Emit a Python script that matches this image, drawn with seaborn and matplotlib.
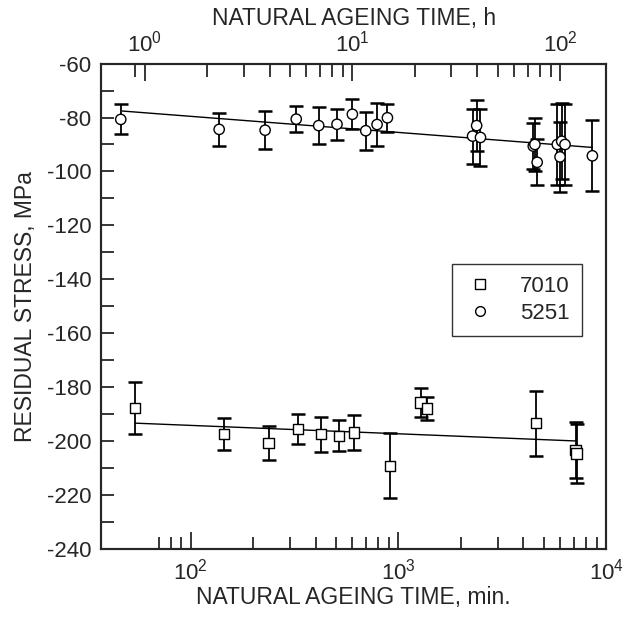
import numpy as np
import pandas as pd
import matplotlib
matplotlib.use("Agg")
import matplotlib.pyplot as plt
import seaborn as sns
from matplotlib.lines import Line2D
from matplotlib.ticker import MultipleLocator, LogLocator, FixedLocator, NullFormatter

# alloy 5251 (circles): time in minutes, stress MPa, error
t_5251 = [46, 137, 228, 322, 413, 506, 600, 696, 789, 885,
          2275, 2380, 2484, 4460, 4541, 4657, 5821, 6000, 6112, 6342, 8590]
s_5251 = [-80.7, -84.4, -84.7, -80.6, -83.0, -82.5, -78.8, -84.9, -82.6, -80.1,
          -86.9, -83.0, -87.4, -90.6, -90.0, -96.6, -90.0, -94.6, -88.8, -90.0, -94.2]
e_5251 = [5.6, 6.2, 7.0, 4.9, 7.0, 5.7, 5.6, 7.0, 7.8, 5.1,
          10.2, 9.5, 10.7, 8.4, 9.7, 8.6, 15.0, 13.0, 14.0, 15.0, 13.2]

# alloy 7010 (squares)
t_7010 = [54, 145, 237, 329, 423, 517, 610, 911, 1278, 1375, 4584, 7134, 7212]
s_7010 = [-187.7, -197.3, -200.7, -195.4, -197.4, -198.0, -196.8, -209.1,
          -185.6, -187.9, -193.3, -203.2, -204.5]
e_7010 = [9.5, 5.9, 6.4, 5.6, 6.5, 5.7, 6.5, 12.0, 5.4, 4.3, 12.1, 10.5, 11.0]

# fitted lines (end points)
fit_t_5251 = [46.8, 8590]
fit_s_5251 = [-77.6, -91.1]
fit_t_7010 = [54, 7134]
fit_s_7010 = [-193.3, -199.9]

# minor ticks as drawn in the original (min / h)
minor_min = [70, 80, 90, 200, 300, 400, 500, 600, 700, 800, 900,
             2000, 3000, 4000, 5000, 6000, 7000, 8000, 9000]
minor_h = [0.9, 2, 3, 4, 5, 6, 7, 8, 9, 20, 30, 40, 50, 60, 70, 80, 90]

x_min, x_max = 37, 10000
fs = 16

sns.set_style("ticks")
plt.rcParams['font.family'] = ['Liberation Sans', 'DejaVu Sans']
plt.rcParams['mathtext.default'] = 'regular'
plt.rcParams['axes.unicode_minus'] = False

df = pd.concat([
    pd.DataFrame({'time': t_7010, 'stress': s_7010, 'err': e_7010, 'alloy': '7010'}),
    pd.DataFrame({'time': t_5251, 'stress': s_5251, 'err': e_5251, 'alloy': '5251'}),
], ignore_index=True)
fits = pd.concat([
    pd.DataFrame({'time': fit_t_7010, 'stress': fit_s_7010, 'alloy': '7010'}),
    pd.DataFrame({'time': fit_t_5251, 'stress': fit_s_5251, 'alloy': '5251'}),
], ignore_index=True)

fig = plt.figure(figsize=(6.32, 6.17), dpi=100)
ax = fig.add_axes([0.160, 0.110, 0.799, 0.787])

# fit lines
sns.lineplot(data=fits, x='time', y='stress', units='alloy', estimator=None,
             color='black', lw=1.0, ax=ax, legend=False)

# error bars
for alloy, g in df.groupby('alloy'):
    ax.errorbar(g['time'], g['stress'], yerr=g['err'], fmt='none', ecolor='black',
                elinewidth=1.3, capsize=5, capthick=1.8, zorder=3)

# markers
sns.scatterplot(data=df, x='time', y='stress', style='alloy',
                markers={'7010': 's', '5251': 'o'}, s=55, color='white',
                edgecolor='black', linewidth=1.0, ax=ax, legend=False, zorder=4)

ax.set_xscale('log')
ax.set_xlim(x_min, x_max)
ax.set_ylim(-240, -60)
ax.yaxis.set_major_locator(MultipleLocator(20))
ax.yaxis.set_minor_locator(MultipleLocator(10))
ax.xaxis.set_major_locator(LogLocator(base=10))
ax.xaxis.set_minor_locator(FixedLocator(minor_min))
ax.xaxis.set_minor_formatter(NullFormatter())

ax.tick_params(axis='both', which='both', direction='in', labelsize=fs, width=1.3)
ax.tick_params(axis='y', which='both', length=9, pad=7)
ax.tick_params(axis='x', which='major', length=12, pad=7)
ax.tick_params(axis='x', which='minor', length=9)
for sp in ax.spines.values():
    sp.set_linewidth(1.5)

ax.set_xlabel('NATURAL AGEING TIME, min.', fontsize=fs + 0.5, labelpad=1)
ax.set_ylabel('RESIDUAL STRESS, MPa', fontsize=fs + 0.5, labelpad=7)

# top axis in hours
ax2 = ax.twiny()
ax2.set_xscale('log')
ax2.set_xlim(x_min / 60, x_max / 60)
ax2.xaxis.set_major_locator(LogLocator(base=10))
ax2.xaxis.set_minor_locator(FixedLocator(minor_h))
ax2.xaxis.set_minor_formatter(NullFormatter())
ax2.tick_params(axis='x', which='both', direction='in', labelsize=fs, width=1.3)
ax2.tick_params(axis='x', which='major', length=12, pad=5)
ax2.tick_params(axis='x', which='minor', length=9)
ax2.set_xlabel('NATURAL AGEING TIME, h', fontsize=fs + 0.5, labelpad=4)
for sp in ax2.spines.values():
    sp.set_linewidth(1.5)

handles = [
    Line2D([], [], marker='s', ls='none', mfc='white', mec='black', ms=7, mew=1.0, label='7010'),
    Line2D([], [], marker='o', ls='none', mfc='white', mec='black', ms=7, mew=1.0, label='5251'),
]
leg = ax.legend(handles=handles, loc='upper left', bbox_to_anchor=(0.673, 0.61),
                fontsize=fs, frameon=True, fancybox=False, edgecolor='black',
                handlelength=1.4, handletextpad=1.1, borderpad=0.55, labelspacing=0.25)
leg.get_frame().set_linewidth(1.0)

fig.savefig('out.png', dpi=100)
